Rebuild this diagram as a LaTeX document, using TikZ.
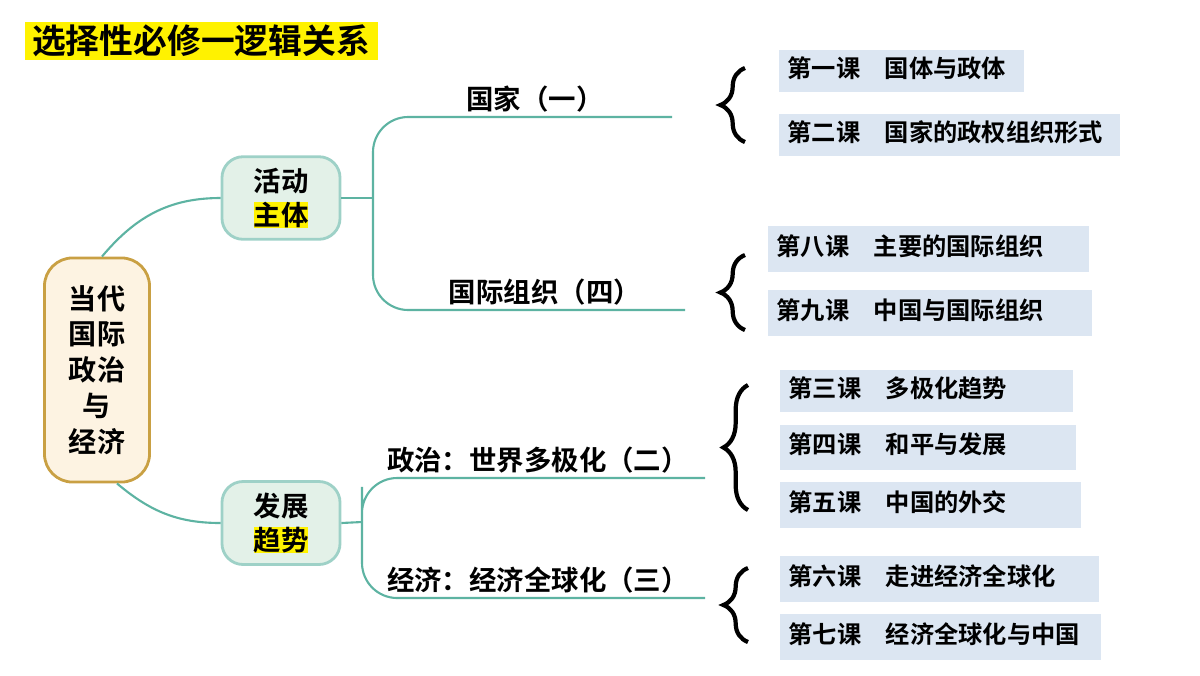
\documentclass[tikz,border=0pt]{standalone}
\usepackage{fontspec}
\setmainfont{Noto Sans CJK SC}[BoldFont={* Bold}]
\usetikzlibrary{positioning}
\usetikzlibrary{decorations.pathreplacing}
\definecolor{teal1}{HTML}{5DB3A2}
\definecolor{gfill}{HTML}{E3F1E8}
\definecolor{bfill}{HTML}{DCE6F2}
\definecolor{rfill}{HTML}{FDF3E2}
\definecolor{rdraw}{HTML}{C9A043}
\tikzset{
  branch/.style={rounded corners=6pt,fill=gfill,draw=teal1!60,thick,
    minimum width=1.18cm,minimum height=0.8cm,align=center,
    font=\fontsize{7.8}{9.5}\selectfont\bfseries},
  link/.style={draw=teal1,semithick},
  label/.style={font=\fontsize{7.8}{9}\selectfont\bfseries},
  br/.style={decorate,decoration={brace,amplitude=7pt},very thick}
}
\begin{document}
\begin{tikzpicture}[x=0.01cm,y=-0.01cm]
    \useasboundingbox (0,0) rectangle (1200,675);
    % title
    \fill[yellow] (25,22) rectangle (378,60);
    \node[font=\fontsize{9.6}{10}\selectfont\bfseries] (title) at (201,41) {选择性必修一逻辑关系};
    % root and branches
    \node[rounded corners=8pt,fill=rfill,draw=rdraw,thick,minimum width=1.05cm,
      minimum height=2.24cm,align=center,font=\fontsize{8}{10.2}\selectfont\bfseries]
      (root) at (97,370) {当代\\国际\\政治\\与\\经济};
    \node[branch] (zt) at (281,198) {活动\\\setlength{\fboxsep}{0pt}\colorbox{yellow}{主体}};
    \node[branch] (qs) at (281,523) {发展\\\setlength{\fboxsep}{0pt}\colorbox{yellow}{趋势}};
    \draw[link] (root.north) ++(5,0) coordinate (r1) to[out=50,in=180] (zt.west);
    \draw[link] (root.south) ++(20,0) coordinate (r2) to[out=-40,in=180] (qs.west);
    % coordinates for branch lines
    \coordinate (a1) at (672,117);
    \coordinate (a2) at (685,310);
    \coordinate (b1) at (705,478);
    \coordinate (b2) at (705,598);
    \draw[link,rounded corners=10pt] (a1) -| (373,198) |- (a2);
    \draw[link] (zt.east) -- (373,198);
    \draw[link,rounded corners=10pt] (b1) -| (362,522) |- (b2);
    \draw[link] (qs.east) -- (362,522);
    \node[label,above=-0.8mm of a1,xshift=-1.37cm] (gj) {国家（一）};
    \node[label,above=-0.8mm of a2,xshift=-1.4cm] (gz) {国际组织（四）};
    \node[label,above=-0.8mm of b1,xshift=-1.67cm] (zz) {政治：世界多极化（二）};
    \node[label,above=-0.8mm of b2,xshift=-1.67cm] (jj) {经济：经济全球化（三）};
    % lessons
    \foreach \n/\x/\y/\w/\h/\t in {
      l1/779/50/245/42/第一课\quad 国体与政体,
      l2/779/114/341/42/第二课\quad 国家的政权组织形式,
      l8/768/226/321/46/第八课\quad 主要的国际组织,
      l9/768/290/324/46/第九课\quad 中国与国际组织,
      l3/780/370/293/42/第三课\quad 多极化趋势,
      l4/780/425/296/45/第四课\quad 和平与发展,
      l5/780/482/301/46/第五课\quad 中国的外交,
      l6/780/556/319/46/第六课\quad 走进经济全球化,
      l7/780/614/321/46/第七课\quad 经济全球化与中国}
      {\fill[bfill] (\x,\y) rectangle ++(\w,\h);
       \node[anchor=west,inner sep=0pt,font=\fontsize{6.9}{7}\selectfont\bfseries] (\n) at (\x+8,\y+\h/2-3) {\t};}
    % braces
    \draw[br] (745,142) -- (745,68);
    \draw[br] (745,330) -- (745,255);
    \draw[br] (748,510) -- (748,385);
    \draw[br] (748,642) -- (748,568);
\end{tikzpicture}
\end{document}
